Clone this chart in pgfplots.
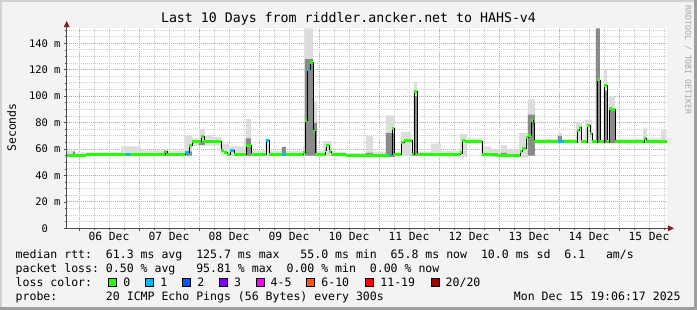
\documentclass[border=0pt]{standalone}
\usepackage{fontspec}
\setmainfont{DejaVu Sans Mono}
\usepackage{pgfplots}
\pgfplotsset{compat=1.18}
\usepackage{pgfplotstable}
\pgfdeclarelayer{canvas}
\pgfplotsset{
  layers/mylayers/.define layer set={canvas,axis background,axis grid,axis ticks,axis lines,axis tick labels,pre main,main,axis descriptions,axis foreground}{},
}
\definecolor{canvas}{HTML}{F3F3F3}
\definecolor{gridred}{HTML}{F09090}
\definecolor{gridgray}{HTML}{CCCCCC}
\definecolor{arrowred}{HTML}{80202A}
\definecolor{axisgray}{HTML}{505050}
\definecolor{smokelight}{HTML}{DDDDDD}
\definecolor{smokedark}{HTML}{8A8A8A}
\definecolor{lossA}{HTML}{26FF00}
\definecolor{lossB}{HTML}{00B8FF}
\definecolor{lossC}{HTML}{0059FF}
\definecolor{lossD}{HTML}{7E00FF}
\definecolor{lossE}{HTML}{FF00FF}
\definecolor{lossF}{HTML}{FF5500}
\definecolor{lossG}{HTML}{FF0000}
\definecolor{lossH}{HTML}{A10000}

% median rtt (hours since 06 Dec 00:00)
\pgfplotstableread{
h m
-4.9 55.3
2.8 56.2
34.4 57.8
35.2 56.2
42.4 57.2
44.0 63
45.2 65.5
48.8 69.5
50.0 65.5
56.8 58.5
58.0 57.5
59.2 56.2
60.4 58.8
62.0 56.2
66.8 63.0
68.8 56.2
74.8 66.3
76.0 56.2
89.6 57.5
90.4 81.5
91.2 120
92.4 125.5
93.6 73.6
94.4 56.2
98.4 59
99.0 62.7
100.0 58
100.8 56.2
106.8 55.2
124.0 56
125.2 75.7
126.2 56.2
128.8 65
130.0 66.3
133.2 56.2
134.2 103.7
135.2 56.2
144.8 55.7
152.4 57
153.2 66.3
154.4 65.5
161.2 55.5
167.6 55.2
176.4 58.3
177.2 60.3
178.8 69
179.6 70.3
180.8 81.8
181.6 79.3
182.2 65.3
199.2 74
200.0 76
201.0 65.3
203.2 78
204.4 72
205.2 65.3
207.2 112.2
208.4 65.3
210.2 107.9
211.2 65.3
212.0 90.8
213.2 90
214.4 65.3
226.0 68
227.0 65.3
234.8 66
235.1 66
}\med

\begin{document}
\frenchspacing
\begin{tikzpicture}
\pgfsetlayers{canvas,axis background,axis grid,axis ticks,axis lines,axis tick labels,pre main,main,axis descriptions,axis foreground}
% canvas
\begin{pgfonlayer}{canvas}
\fill[canvas] (0,0) rectangle (697bp,-310bp);
\fill[black!18] (0,0) rectangle (697bp,-2bp);
\fill[black!18] (0,0) rectangle (2bp,-310bp);
\fill[black!38] (0,-307bp) rectangle (697bp,-310bp);
\fill[black!38] (694bp,0) rectangle (697bp,-310bp);
\end{pgfonlayer}

\begin{axis}[
  set layers=mylayers,
  at={(66.7bp,-228.3bp)}, anchor=south west,
  scale only axis, width=600bp, height=200bp,
  xmin=-4.9, xmax=235.1, ymin=0, ymax=151.3,
  axis background/.style={fill=white},
  axis x line*=bottom, axis y line*=left,
  axis line style={draw=axisgray, line width=0.9bp},
  xtick={0,24,...,216}, xticklabels={},
  minor xtick={6,12,18,30,36,42,54,60,66,78,84,90,102,108,114,126,132,138,150,156,162,174,180,186,198,204,210,222,228,234},
  extra x ticks={12,36,...,228},
  extra x tick labels={06 Dec,07 Dec,08 Dec,09 Dec,10 Dec,11 Dec,12 Dec,13 Dec,14 Dec,15 Dec},
  extra x tick style={grid=none, major tick length=0pt},
  ytick={0,20,...,140},
  yticklabels={0\hphantom{xx},20 m,40 m,60 m,80 m,100 m,120 m,140 m},
  minor ytick={5,10,15,25,30,35,45,50,55,65,70,75,85,90,95,105,110,115,125,130,135,145,150},
  grid=both,
  major grid style={draw=gridred, dash pattern=on 1bp off 1bp, line width=0.8bp},
  minor grid style={draw=gridgray, dash pattern=on 1bp off 1bp, line width=0.8bp},
  tick align=outside,
  major tick length=3bp, minor tick length=2bp,
  tick style={draw=axisgray, line width=0.6bp},
  xticklabel style={font=\fontsize{11.3}{13}\selectfont, inner sep=0pt, yshift=-4bp},
  yticklabel style={font=\fontsize{10.5}{12}\selectfont, inner sep=0pt, xshift=-3bp},
]
% light smoke: outline = top of light smoke (forward), smoke bottom (backward)
\addplot[sharp plot, mark=none, draw=none, fill=smokelight, forget plot] coordinates {
(-4.9,58.5) (-2.4,58.5) (-2.4,60) (-1.6,60) (-1.6,57.5) (16.8,57.5) (16.8,62) (24.8,62) (24.8,59) (32.8,59) (32.8,58.5) (34.0,58.5) (34.0,60) (35.2,60) (35.2,58.5) (42.4,58.5) (42.4,70) (45.2,70) (45.2,68) (48.0,68) (48.0,75.5) (50.4,75.5) (50.4,70.5) (53.6,70.5) (53.6,69) (56.8,69) (56.8,64) (60.0,64) (60.0,62) (66.8,62) (66.8,82.6) (68.8,82.6) (68.8,59) (74.4,59) (74.4,67.5) (76.0,67.5) (76.0,58.5) (81.2,58.5) (81.2,61.7) (82.8,61.7) (82.8,58.5) (89.6,58.5) (89.6,62) (90.4,62) (90.4,151.2) (93.6,151.2) (93.6,96) (95.2,96) (95.2,58.5) (97.6,58.5) (97.6,66) (101.2,66) (101.2,58) (106.8,58) (106.8,57) (114.8,57) (114.8,70) (117.6,70) (117.6,58) (122.8,58) (122.8,85.5) (126.4,85.5) (126.4,58) (128.8,58) (128.8,73) (132.8,73) (132.8,58) (134.0,58) (134.0,111) (135.2,111) (135.2,58) (140.8,58) (140.8,64) (144.8,64) (144.8,58.5) (152.4,58.5) (152.4,71.5) (155.2,71.5) (155.2,68) (161.2,68) (161.2,62) (164.8,62) (164.8,59.5) (168.8,59.5) (168.8,63) (171.2,63) (171.2,59.5) (176.0,59.5) (176.0,72) (179.6,72) (179.6,97.8) (182.4,97.8) (182.4,67.5) (191.6,67.5) (191.6,72) (193.2,72) (193.2,67.5) (198.8,67.5) (198.8,80) (201.2,80) (201.2,67) (202.4,67) (202.4,82) (205.2,82) (205.2,67) (206.8,67) (206.8,151.2) (208.4,151.2) (208.4,67) (210.0,67) (210.0,120) (211.2,120) (211.2,67) (212.0,67) (212.0,100) (214.4,100) (214.4,67.5) (225.6,67.5) (225.6,75.6) (227.2,75.6) (227.2,68) (232.8,68) (232.8,74) (235.1,74)
(235.1,64.5) (182.4,64.5) (182.4,55) (179.6,55) (179.6,54) (164.8,54) (164.8,54.5) (161.2,54.5) (161.2,64.5) (155.2,64.5) (155.2,54.5) (144.8,54.5) (144.8,55) (126.4,55) (126.4,54) (106.8,54) (106.8,55) (60.0,55) (60.0,56) (56.8,56) (56.8,63) (45.2,63) (45.2,55) (-1.6,55) (-1.6,54.5) (-4.9,54.5)
};
% dark smoke: outline = top of dark smoke (forward), smoke bottom (backward)
\addplot[sharp plot, mark=none, draw=none, fill=smokedark, forget plot] coordinates {
(-4.9,54.5) (-2.4,54.5) (-2.4,58) (-1.6,58) (-1.6,55) (34.0,55) (34.0,58.5) (35.2,58.5) (35.2,55) (42.4,55) (42.4,58) (45.2,58) (45.2,63) (48.0,63) (48.0,66) (50.4,66) (50.4,63) (56.8,63) (56.8,56) (60.0,56) (60.0,55) (66.8,55) (66.8,68) (68.8,68) (68.8,55) (81.2,55) (81.2,61.5) (82.8,61.5) (82.8,55) (90.4,55) (90.4,128) (93.6,128) (93.6,80) (95.2,80) (95.2,55) (106.8,55) (106.8,54) (114.8,54) (114.8,57) (117.6,57) (117.6,54) (122.8,54) (122.8,72) (126.4,72) (126.4,55) (134.0,55) (134.0,100) (135.2,100) (135.2,55) (144.8,55) (144.8,54.5) (155.2,54.5) (155.2,64.5) (161.2,64.5) (161.2,54.5) (164.8,54.5) (164.8,54) (168.8,54) (168.8,57) (171.2,57) (171.2,54) (179.6,54) (179.6,86) (182.4,86) (182.4,64.5) (191.6,64.5) (191.6,70) (193.2,70) (193.2,64.5) (206.8,64.5) (206.8,151.2) (208.4,151.2) (208.4,64.5) (210.0,64.5) (210.0,104) (211.2,104) (211.2,64.5) (212.0,64.5) (212.0,90) (214.4,90) (214.4,64.5) (235.1,64.5)
(235.1,64.5) (182.4,64.5) (182.4,55) (179.6,55) (179.6,54) (164.8,54) (164.8,54.5) (161.2,54.5) (161.2,64.5) (155.2,64.5) (155.2,54.5) (144.8,54.5) (144.8,55) (126.4,55) (126.4,54) (106.8,54) (106.8,55) (60.0,55) (60.0,56) (56.8,56) (56.8,63) (45.2,63) (45.2,55) (-1.6,55) (-1.6,54.5) (-4.9,54.5)
};
% median
\addplot[const plot, black, line width=0.9bp] table[x=h,y=m]{\med};
\addplot[jump mark left, lossA, line width=3bp] table[x=h,y=m]{\med};
% loss-colour overrides
\addplot[lossB, line width=3bp] coordinates {(18.8,56.2) (20.4,56.2)};
\addplot[lossB, line width=3bp] coordinates {(42.4,57.2) (44.0,57.2)};
\addplot[lossB, line width=3bp] coordinates {(60.4,58.8) (62.0,58.8)};
\addplot[lossB, line width=3bp] coordinates {(74.8,66.3) (76.0,66.3)};
\addplot[lossB, line width=3bp] coordinates {(81.2,56.2) (82.8,56.2)};
\addplot[lossB, line width=3bp] coordinates {(91.2,120) (92.4,120)};
\addplot[lossB, line width=3bp] coordinates {(124.0,56) (125.2,56)};
\addplot[lossB, line width=3bp] coordinates {(191.6,65.3) (194.2,65.3)};
\addplot[lossC, line width=3bp] coordinates {(181.6,79.3) (182.2,79.3)};
\end{axis}

% axis arrows
\draw[axisgray, line width=0.9bp] (66.7bp,-228.3bp) -- (66.7bp,-24bp);
\fill[arrowred] (63.7bp,-27bp) -- (69.7bp,-27bp) -- (66.7bp,-21bp) -- cycle;
\draw[axisgray, line width=0.9bp] (666.7bp,-228.3bp) -- (670bp,-228.3bp);
\fill[arrowred] (668bp,-225.3bp) -- (668bp,-231.3bp) -- (674bp,-228.3bp) -- cycle;

% title
\node[inner sep=0pt, font=\fontsize{13.3}{16}\selectfont] at (348.5bp,-19bp) {Last 10 Days from riddler.ancker.net to HAHS-v4};
% y label
\node[inner sep=0pt, rotate=90, font=\fontsize{11.5}{14}\selectfont] at (11.5bp,-127.5bp) {Seconds};
% watermark
\node[inner sep=0pt, rotate=-90, text=black!35, font=\fontsize{8.3}{10}\selectfont] at (688bp,-60bp) {RRDTOOL / TOBI OETIKER};

% legend
\begin{scope}[every node/.style={inner sep=0pt, anchor=base west, font=\fontsize{11.58}{14}\selectfont}]
\node at (15.5bp,-258.3bp) {median rtt:~~61.3 ms avg~~125.7 ms max~~~55.0 ms min~~65.8 ms now~~10.0 ms sd~~6.1~~~am/s};
\node at (15.5bp,-272.3bp) {packet loss: 0.50 \% avg~~~95.81 \% max~~0.00 \% min~~0.00 \% now};
\node at (15.5bp,-286.3bp) {loss color:};
\node at (15.5bp,-300bp) {probe:~~~~~~~20 ICMP Echo Pings (56 Bytes) every 300s};
\node[anchor=base east] at (680.8bp,-300bp) {Mon Dec 15 19:06:17 2025};
\foreach \bx/\col/\lab in {108.7/lossA/0, 145.7/lossB/1, 182.7/lossC/2, 219.3/lossD/3, 256/lossE/4-5, 306.7/lossF/6-10, 365.7/lossG/11-19, 431/lossH/{20/20}}{
  \pgfmathsetmacro{\lx}{\bx+14.5}
  \filldraw[fill=\col, draw=black, line width=0.9bp] (\bx bp,-278.5bp) rectangle ++(8bp,-8bp);
  \node at (\lx bp,-286.3bp) {\lab};
}
\end{scope}

\pgfresetboundingbox
\path[use as bounding box] (0,0) rectangle (697bp,-310bp);
\end{tikzpicture}
\end{document}
